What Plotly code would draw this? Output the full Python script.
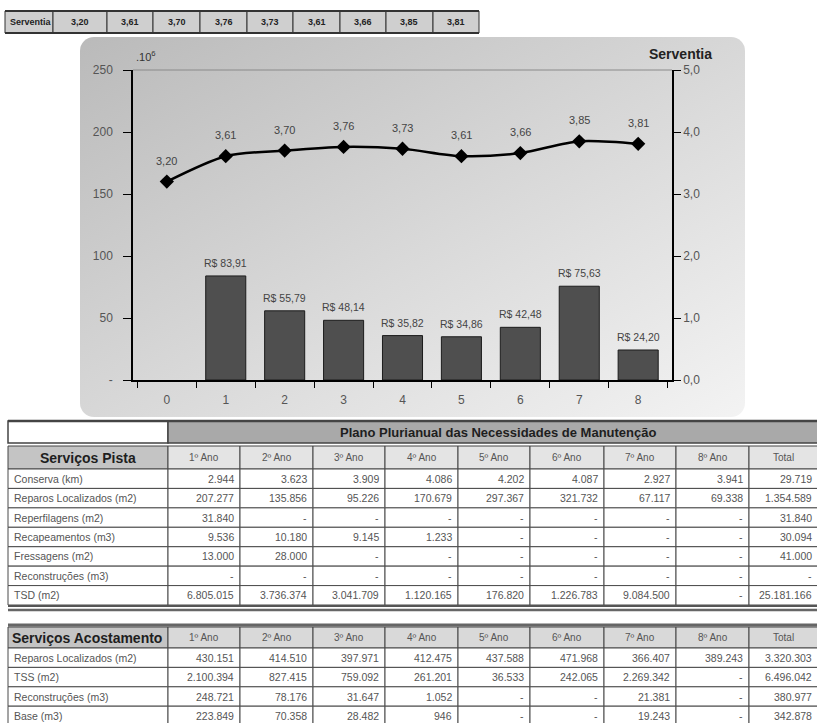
import base64
import plotly.graph_objects as go

W, H = 817, 723
FONT = "Liberation Sans, Arial, sans-serif"

# ---------------- data ----------------
periods = ["0", "1", "2", "3", "4", "5", "6", "7", "8"]
serventia = [3.20, 3.61, 3.70, 3.76, 3.73, 3.61, 3.66, 3.85, 3.81]
cost_periods = ["1", "2", "3", "4", "5", "6", "7", "8"]
cost_millions = [83.91, 55.79, 48.14, 35.82, 34.86, 42.48, 75.63, 24.20]

left_tickvals = [0, 50, 100, 150, 200, 250]
left_ticktext = ["-", "50", "100", "150", "200", "250"]
right_tickvals = [0, 1, 2, 3, 4, 5]

strip_label = "Serventia"
table_title = "Plano Plurianual das Necessidades de Manutenção"
year_headers = ["1º Ano", "2º Ano", "3º Ano", "4º Ano", "5º Ano", "6º Ano",
                "7º Ano", "8º Ano", "Total"]

pista_header = "Serviços Pista"
pista_services = ["Conserva (km)", "Reparos Localizados (m2)", "Reperfilagens (m2)",
                  "Recapeamentos (m3)", "Fressagens (m2)", "Reconstruções (m3)", "TSD (m2)"]
pista_values = [
    ["2.944", "3.623", "3.909", "4.086", "4.202", "4.087", "2.927", "3.941", "29.719"],
    ["207.277", "135.856", "95.226", "170.679", "297.367", "321.732", "67.117", "69.338", "1.354.589"],
    ["31.840", "-", "-", "-", "-", "-", "-", "-", "31.840"],
    ["9.536", "10.180", "9.145", "1.233", "-", "-", "-", "-", "30.094"],
    ["13.000", "28.000", "-", "-", "-", "-", "-", "-", "41.000"],
    ["-", "-", "-", "-", "-", "-", "-", "-", "-"],
    ["6.805.015", "3.736.374", "3.041.709", "1.120.165", "176.820", "1.226.783", "9.084.500", "-", "25.181.166"],
]

acost_header = "Serviços Acostamento"
acost_services = ["Reparos Localizados (m2)", "TSS (m2)", "Reconstruções (m3)", "Base (m3)"]
acost_values = [
    ["430.151", "414.510", "397.971", "412.475", "437.588", "471.968", "366.407", "389.243", "3.320.303"],
    ["2.100.394", "827.415", "759.092", "261.201", "36.533", "242.065", "2.269.342", "-", "6.496.042"],
    ["248.721", "78.176", "31.647", "1.052", "-", "-", "21.381", "-", "380.977"],
    ["223.849", "70.358", "28.482", "946", "-", "-", "19.243", "-", "342.878"],
]


def comma(v, nd=2):
    return f"{v:.{nd}f}".replace(".", ",")


# ---------------- helpers (pixel -> paper) ----------------
def X(px):
    return px / W


def Y(py):
    return 1 - py / H


shapes = []
annotations = []


def cell(x0, y0, x1, y1, fill="white", lc="#4a4a4a", lw=1):
    shapes.append(dict(type="rect", xref="paper", yref="paper",
                       x0=X(x0), x1=X(x1), y0=Y(y1), y1=Y(y0),
                       fillcolor=fill, line=dict(color=lc, width=lw), layer="above"))


def hline(x0, x1, y, lc="#444", lw=2):
    shapes.append(dict(type="line", xref="paper", yref="paper",
                       x0=X(x0), x1=X(x1), y0=Y(y), y1=Y(y),
                       line=dict(color=lc, width=lw), layer="above"))


def text(xp, yp, s, size=10, bold=False, anchor="center", color="#555"):
    annotations.append(dict(xref="paper", yref="paper", x=X(xp), y=Y(yp),
                            text=f"<b>{s}</b>" if bold else s, showarrow=False,
                            xanchor=anchor, yanchor="middle",
                            font=dict(size=size, color=color, family=FONT)))


# ---------------- top strip ----------------
strip_x = [5, 53, 107, 153, 200, 247, 293, 340, 386, 433, 479]
sy0, sy1 = 11, 33
cell(strip_x[0], sy0, strip_x[1], sy1, fill="#cfcfcf", lc="#333")
text(strip_x[0] + 3, (sy0 + sy1) / 2, strip_label, size=9, bold=True, anchor="left", color="#222")
for i, v in enumerate(serventia):
    cell(strip_x[i + 1], sy0, strip_x[i + 2], sy1, fill="#cfcfcf", lc="#333")
    text((strip_x[i + 1] + strip_x[i + 2]) / 2, (sy0 + sy1) / 2, comma(v), size=9, bold=True, color="#222")
hline(strip_x[0], strip_x[-1], sy0, lc="#333", lw=2)
hline(strip_x[0], strip_x[-1], sy1, lc="#333", lw=2)

# ---------------- tables ----------------
cols = [8, 168, 240, 313, 385, 458, 530, 604, 676, 749, 830]


def data_rows(services, values, ytop, rh):
    for r, (name, vals) in enumerate(zip(services, values)):
        y0 = ytop + r * rh
        y1 = y0 + rh
        cell(cols[0], y0, cols[1], y1)
        text(cols[0] + 4, (y0 + y1) / 2, name, size=10.5, anchor="left")
        for c, v in enumerate(vals):
            cell(cols[c + 1], y0, cols[c + 2], y1)
            xr = cols[c + 2] - 4 if c < 8 else 814
            text(xr, (y0 + y1) / 2, v, size=10.5, anchor="right")


# table 1
cell(cols[0], 421, cols[1], 443, fill="white", lc="#444", lw=1.5)
cell(cols[1], 421, cols[-1], 443, fill="#a9a9a9", lc="#444", lw=1.5)
text(498, 432, table_title, size=13, bold=True, color="#1e1e1e")
hline(cols[0], cols[-1], 421, lc="#444", lw=2.5)
cell(cols[0], 446, cols[1], 469, fill="#c4c4c4", lc="#444")
text((cols[0] + cols[1]) / 2, 457.5, pista_header, size=14, bold=True, color="#1e1e1e")
for c, h in enumerate(year_headers):
    cell(cols[c + 1], 446, cols[c + 2], 469, fill="#e4e4e4", lc="#444")
    text((cols[c + 1] + cols[c + 2]) / 2 if c < 8 else 783, 457.5, h, size=10)
data_rows(pista_services, pista_values, 469, 19.43)
hline(cols[0], cols[-1], 606, lc="#555", lw=2)
hline(cols[0], cols[-1], 610, lc="#666", lw=2.5)

# table 2
hline(cols[0], cols[-1], 625, lc="#666", lw=3)
cell(cols[0], 627, cols[1], 648, fill="#c4c4c4", lc="#444")
text(cols[0] + 2, 637.5, acost_header, size=14, bold=True, anchor="left", color="#1e1e1e")
for c, h in enumerate(year_headers):
    cell(cols[c + 1], 627, cols[c + 2], 648, fill="#d9d9d9", lc="#444")
    text((cols[c + 1] + cols[c + 2]) / 2 if c < 8 else 783, 637.5, h, size=10)
data_rows(acost_services, acost_values, 648, 19.4)

# ---------------- chart panel background ----------------
pw, ph = 665, 380
svg = (f'<svg xmlns="http://www.w3.org/2000/svg" width="{pw}" height="{ph}">'
       '<defs><linearGradient id="g" x1="0" y1="0" x2="1" y2="1">'
       '<stop offset="0" stop-color="#bababa"/><stop offset="0.55" stop-color="#dadada"/>'
       '<stop offset="1" stop-color="#f3f3f3"/></linearGradient></defs>'
       f'<rect x="0" y="0" width="{pw}" height="{ph}" rx="14" ry="14" fill="url(#g)"/></svg>')
bg_src = "data:image/svg+xml;base64," + base64.b64encode(svg.encode()).decode()

# ---------------- chart ----------------
fig = go.Figure()
fig.add_trace(go.Bar(
    x=cost_periods, y=cost_millions, width=0.68,
    marker=dict(color="#4f4f4f", line=dict(color="#1c1c1c", width=1)),
    showlegend=False, hoverinfo="skip"))
fig.add_trace(go.Scatter(
    x=periods, y=serventia, yaxis="y2", mode="lines+markers",
    line=dict(color="black", width=2.5, shape="spline", smoothing=0.8),
    marker=dict(symbol="diamond", size=11, color="black"),
    showlegend=False, hoverinfo="skip"))

for p, v in zip(cost_periods, cost_millions):
    annotations.append(dict(x=p, y=v, xref="x", yref="y", text="R$ " + comma(v),
                            showarrow=False, yanchor="bottom", yshift=5,
                            font=dict(size=10.5, color="#444", family=FONT)))
for p, v in zip(periods, serventia):
    annotations.append(dict(x=p, y=v, xref="x", yref="y2", text=comma(v),
                            showarrow=False, yanchor="bottom", yshift=13,
                            font=dict(size=11, color="#444", family=FONT)))

text(134, 56, ".10<sup>6</sup>", size=11, anchor="left", color="#333")
text(714, 54, "Serventia", size=14, bold=True, anchor="right", color="#222")

shapes.append(dict(type="line", xref="x domain", yref="y domain", x0=0, x1=1, y0=1, y1=1,
                   line=dict(color="#8a8a8a", width=1), layer="below"))

fig.update_layout(
    width=W, height=H,
    margin=dict(l=0, r=0, t=0, b=0, autoexpand=False),
    paper_bgcolor="white", plot_bgcolor="rgba(0,0,0,0)",
    separators=",.",
    font=dict(family=FONT, size=12, color="#555"),
    images=[dict(source=bg_src, xref="paper", yref="paper", x=X(80), y=Y(37),
                 sizex=pw / W, sizey=ph / H, sizing="stretch", layer="below",
                 xanchor="left", yanchor="top")],
    xaxis=dict(domain=[X(133), X(672)], type="category", categoryorder="array",
               categoryarray=periods, showline=True, linecolor="black", linewidth=1.5,
               ticks="outside", tickson="boundaries", ticklen=6, tickcolor="black",
               tickfont=dict(size=12, color="#555"), ticklabelstandoff=8,
               showgrid=False, zeroline=False, fixedrange=True, automargin=False),
    yaxis=dict(domain=[Y(380), Y(70)], range=[0, 250], tickvals=left_tickvals,
               ticktext=left_ticktext, showline=True, linecolor="black", linewidth=1.5,
               ticks="outside", ticklen=8, tickcolor="black", ticklabelstandoff=8,
               tickfont=dict(size=12, color="#555"), showgrid=False, zeroline=False,
               automargin=False),
    yaxis2=dict(overlaying="y", side="right", anchor="x", range=[0, 5],
                tickvals=right_tickvals, tickformat=".1f", showline=True,
                linecolor="black", linewidth=1.5, ticks="outside", ticklen=7,
                tickcolor="black", tickfont=dict(size=12, color="#555"),
                showgrid=False, zeroline=False, automargin=False),
    bargap=0.3,
    shapes=shapes,
    annotations=annotations,
)

fig.write_html(
    "out.html",
    config={"displayModeBar": False},
    post_script="document.body.style.margin='0';document.body.style.overflow='hidden';",
)
